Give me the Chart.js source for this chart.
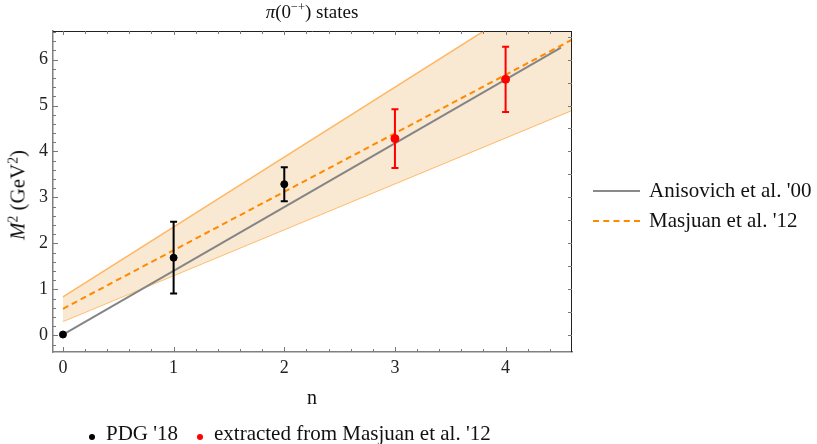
<!DOCTYPE html>
<html>
<head>
<meta charset="utf-8">
<script src="https://cdn.jsdelivr.net/npm/chart.js@4/dist/chart.umd.min.js"></script>
<style>
  html, body { margin: 0; padding: 0; background: #fff; }
  #wrap { position: relative; width: 817px; height: 444px; font-family: "Liberation Serif", "Times New Roman", serif; color: #111; }
  #chart { position: absolute; left: 0; top: 0; }
  .t { position: absolute; white-space: nowrap; line-height: 1; }
  .title { left: 312px; top: 2px; transform: translateX(-50%); font-size: 19px; }
  .ylab { left: 18px; top: 195px; transform: translate(-50%, -50%) rotate(-90deg); font-size: 21px; }
  .xlab { left: 312px; top: 387px; transform: translateX(-50%); font-size: 20px; }
  .leg { font-size: 21px; }
  .swatch { position: absolute; width: 47px; height: 0; }
  .dot { position: absolute; width: 6px; height: 6px; border-radius: 50%; }
  sup { font-size: 0.65em; vertical-align: 0.55em; line-height: 0; }
</style>
</head>
<body>
<div id="wrap">
  <canvas id="chart" width="817" height="444"></canvas>
  <div class="t title"><i>π</i>(0<sup>−+</sup>) states</div>
  <div class="t ylab"><i>M</i><sup>2</sup> (GeV<sup>2</sup>)</div>
  <div class="t xlab">n</div>

  <div class="swatch" style="left:593px;top:190px;border-top:2px solid #8a8a8a"></div>
  <div class="t leg" style="left:649px;top:180px">Anisovich et al. '00</div>
  <div class="swatch" style="left:593px;top:220px;border-top:2px dashed #ff8a00"></div>
  <div class="t leg" style="left:649px;top:210px">Masjuan et al. '12</div>

  <div class="dot" style="left:89px;top:434px;background:#000"></div>
  <div class="t leg" style="left:106px;top:423px">PDG '18</div>
  <div class="dot" style="left:197px;top:434px;background:#f00"></div>
  <div class="t leg" style="left:214px;top:423px">extracted from Masjuan et al. '12</div>
</div>
<script>
// valeurs
const xTicks = [0, 1, 2, 3, 4];
const yTicks = [0, 1, 2, 3, 4, 5, 6];

// PDG '18
const nPDG = [0, 1, 2];
const m2PDG = [0.02, 1.69, 3.29];
const errPDG = [0, 0.78, 0.37];

// extraits de Masjuan et al. '12
const nMasj = [3, 4];
const m2Masj = [4.28, 5.57];
const errMasj = [0.64, 0.71];

// trajectoires
const nAniso = [0, 4.5];
const m2Aniso = [0.02, 6.26];
const nFit = [0, 4.6];
const m2Fit = [0.58, 6.43];
const m2FitUp = [0.84, 7.83];
const m2FitLow = [0.31, 4.90];

const xMin = -0.09, xMax = 4.6;
const yMin = -0.36, yMax = 6.62;

const FONT = '"Liberation Serif", "Times New Roman", serif';

function pts(xs, ys) {
  return xs.map((x, i) => ({ x, y: ys[i] }));
}

// barres d'erreur, dessinees avec les echelles
const errorBars = {
  id: "errorBars",
  afterDatasetsDraw(c) {
    const ctx = c.ctx;
    const xs = c.scales.x, ys = c.scales.y;
    const sets = [
      { n: nPDG, m: m2PDG, e: errPDG, color: "#000" },
      { n: nMasj, m: m2Masj, e: errMasj, color: "#ff0000" },
    ];
    ctx.save();
    ctx.lineWidth = 2;
    sets.forEach((s) => {
      ctx.strokeStyle = s.color;
      s.n.forEach((n, i) => {
        if (!s.e[i]) return;
        const x = xs.getPixelForValue(n);
        const y1 = ys.getPixelForValue(s.m[i] + s.e[i]);
        const y2 = ys.getPixelForValue(s.m[i] - s.e[i]);
        ctx.beginPath();
        ctx.moveTo(x, y1); ctx.lineTo(x, y2);
        ctx.moveTo(x - 3.5, y1); ctx.lineTo(x + 3.5, y1);
        ctx.moveTo(x - 3.5, y2); ctx.lineTo(x + 3.5, y2);
        ctx.stroke();
      });
    });
    ctx.restore();
  },
};

// cadre + graduations facon Mathematica
const frameTicks = {
  id: "frameTicks",
  afterDraw(c) {
    const ctx = c.ctx;
    const a = c.chartArea;
    const xs = c.scales.x, ys = c.scales.y;
    ctx.save();
    ctx.lineWidth = 1;
    ctx.strokeStyle = "#222";
    ctx.beginPath();
    ctx.moveTo(a.left, a.top + 0.5); ctx.lineTo(a.right, a.top + 0.5);
    ctx.moveTo(a.right - 0.5, a.top); ctx.lineTo(a.right - 0.5, a.bottom);
    ctx.stroke();

    ctx.strokeStyle = "#777";
    ctx.beginPath();
    // bas et haut : pas de 0.2
    for (let k = 0; k <= 23; k++) {
      const v = k * 0.2;
      if (v > xMax) break;
      const x = Math.round(xs.getPixelForValue(v)) + 0.5;
      const major = k % 5 === 0;
      ctx.moveTo(x, a.bottom); ctx.lineTo(x, a.bottom - (major ? 5 : 3));
      ctx.moveTo(x, a.top); ctx.lineTo(x, a.top + (major ? 4 : 3));
    }
    // gauche : pas de 0.2
    for (let k = -1; k <= 33; k++) {
      const v = k * 0.2;
      if (v > yMax) break;
      const y = Math.round(ys.getPixelForValue(v)) + 0.5;
      const major = k % 5 === 0;
      ctx.moveTo(a.left, y); ctx.lineTo(a.left + (major ? 5 : 3), y);
    }
    // droite : pas de 0.5
    for (let k = 0; k <= 13; k++) {
      const v = k * 0.5;
      if (v > yMax) break;
      const y = Math.round(ys.getPixelForValue(v)) + 0.5;
      ctx.moveTo(a.right, y); ctx.lineTo(a.right - 4, y);
    }
    ctx.stroke();
    ctx.restore();
  },
};

new Chart(document.getElementById("chart"), {
  type: "scatter",
  data: {
    datasets: [
      {
        data: pts(nPDG, m2PDG),
        backgroundColor: "#000", borderColor: "#000",
        pointRadius: 3.5, order: 0,
      },
      {
        data: pts(nMasj, m2Masj),
        backgroundColor: "#ff0000", borderColor: "#ff0000",
        pointRadius: 4, order: 0,
      },
      {
        data: pts(nFit, m2Fit),
        showLine: true, pointRadius: 0,
        borderColor: "#ff8a00", borderWidth: 2, borderDash: [6, 4], order: 1,
      },
      {
        data: pts(nAniso, m2Aniso),
        showLine: true, pointRadius: 0,
        borderColor: "#858585", borderWidth: 2, order: 2,
      },
      {
        data: pts(nFit, m2FitUp),
        showLine: true, pointRadius: 0,
        borderColor: "#ffb760", borderWidth: 1.5,
        fill: "+1", backgroundColor: "#f9e8d2", order: 3,
      },
      {
        data: pts(nFit, m2FitLow),
        showLine: true, pointRadius: 0,
        borderColor: "#ffb760", borderWidth: 1.5, order: 3,
      },
    ],
  },
  options: {
    responsive: false,
    animation: false,
    layout: { padding: { left: 13, top: 31, right: 245, bottom: 52 } },
    plugins: { legend: { display: false }, tooltip: { enabled: false } },
    scales: {
      x: {
        type: "linear", min: xMin, max: xMax,
        afterBuildTicks: (s) => { s.ticks = xTicks.map((v) => ({ value: v })); },
        afterFit: (s) => { s.height = 40; },
        grid: { display: false, drawTicks: false },
        border: { display: true, color: "#808080", width: 1.5 },
        ticks: { font: { family: FONT, size: 18 }, color: "#222", padding: 5, maxRotation: 0 },
      },
      y: {
        type: "linear", min: yMin, max: yMax,
        afterBuildTicks: (s) => { s.ticks = yTicks.map((v) => ({ value: v })); },
        afterFit: (s) => { s.width = 40; },
        grid: { display: false, drawTicks: false },
        border: { display: true, color: "#808080", width: 1.5 },
        ticks: { font: { family: FONT, size: 18 }, color: "#222", padding: 5 },
      },
    },
  },
  plugins: [errorBars, frameTicks],
});
</script>
</body>
</html>
